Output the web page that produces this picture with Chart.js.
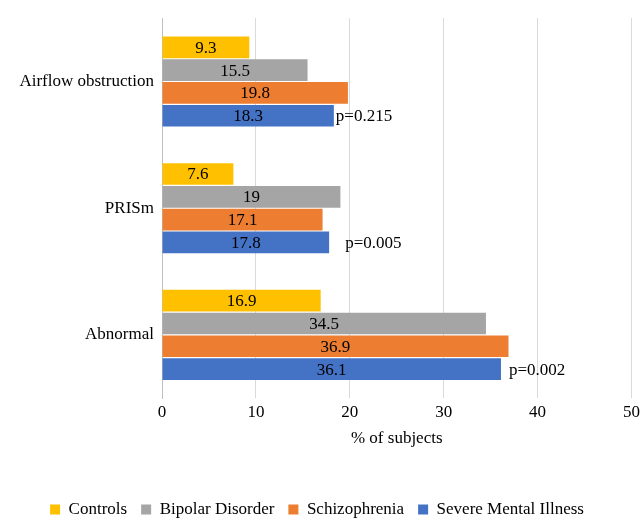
<!DOCTYPE html>
<html><head><meta charset="utf-8">
<script src="https://cdn.jsdelivr.net/npm/chart.js@4"></script>
<style>body{margin:0;background:#fff}#wrap{width:644px;height:528px}</style>
</head><body><div id="wrap"><canvas id="c"></canvas></div>
<script>
const categories = ['Airflow obstruction', 'PRISm', 'Abnormal'];
const controls = [9.3, 7.6, 16.9];
const bipolar = [15.5, 19, 34.5];
const schizo = [19.8, 17.1, 36.9];
const smi = [18.3, 17.8, 36.1];
const pValues = ['p=0.215', 'p=0.005', 'p=0.002'];
const FONT = '"Liberation Serif", "Times New Roman", serif';

const labelPlugin = {
  id: 'labels',
  afterDatasetsDraw(chart) {
    const ctx = chart.ctx;
    const pOffset = [2, 16, 8];
    ctx.save();
    ctx.font = '17px ' + FONT;
    ctx.textBaseline = 'middle';
    chart.data.datasets.forEach((ds, di) => {
      chart.getDatasetMeta(di).data.forEach((bar, i) => {
        ctx.fillStyle = '#000';
        ctx.textAlign = 'center';
        ctx.fillText(String(ds.data[i]), (bar.x + bar.base) / 2, bar.y + 1);
        if (di === 3) {
          ctx.textAlign = 'left';
          ctx.fillText(pValues[i], bar.x + pOffset[i], bar.y + 1);
        }
      });
    });
    ctx.restore();
  }
};

new Chart(document.getElementById('c'), {
  type: 'bar',
  data: {
    labels: categories,
    datasets: [
      {label: 'Controls', data: controls, backgroundColor: '#FFC000'},
      {label: 'Bipolar Disorder', data: bipolar, backgroundColor: '#A5A5A5'},
      {label: 'Schizophrenia', data: schizo, backgroundColor: '#ED7D31'},
      {label: 'Severe Mental Illness', data: smi, backgroundColor: '#4472C4'}
    ]
  },
  options: {
    indexAxis: 'y',
    responsive: true, maintainAspectRatio: false, animation: false,
    datasets: {bar: {barPercentage: 0.95, categoryPercentage: 0.72}},
    layout: {padding: {top: -15, right: 10, left: 0, bottom: 0}},
    scales: {
      x: {min: 0, max: 50, ticks: {stepSize: 10, color: '#000', padding: 4, font: {family: FONT, size: 17}},
          grid: {color: '#d9d9d9', drawTicks: false}, border: {display: false},
          title: {display: true, text: '% of subjects', color: '#000', padding: {top: 2, bottom: 38}, font: {family: FONT, size: 17}}},
      y: {ticks: {color: '#000', font: {family: FONT, size: 17}, padding: 8},
          afterFit(s) { s.width = 162; },
          grid: {display: false, drawTicks: false}, border: {color: '#bfbfbf'}}
    },
    plugins: {
      legend: {position: 'bottom', labels: {boxWidth: 10, boxHeight: 10, color: '#000', padding: 14, font: {family: FONT, size: 17}}},
      tooltip: {enabled: false}
    }
  },
  plugins: [labelPlugin]
});
</script></body></html>
